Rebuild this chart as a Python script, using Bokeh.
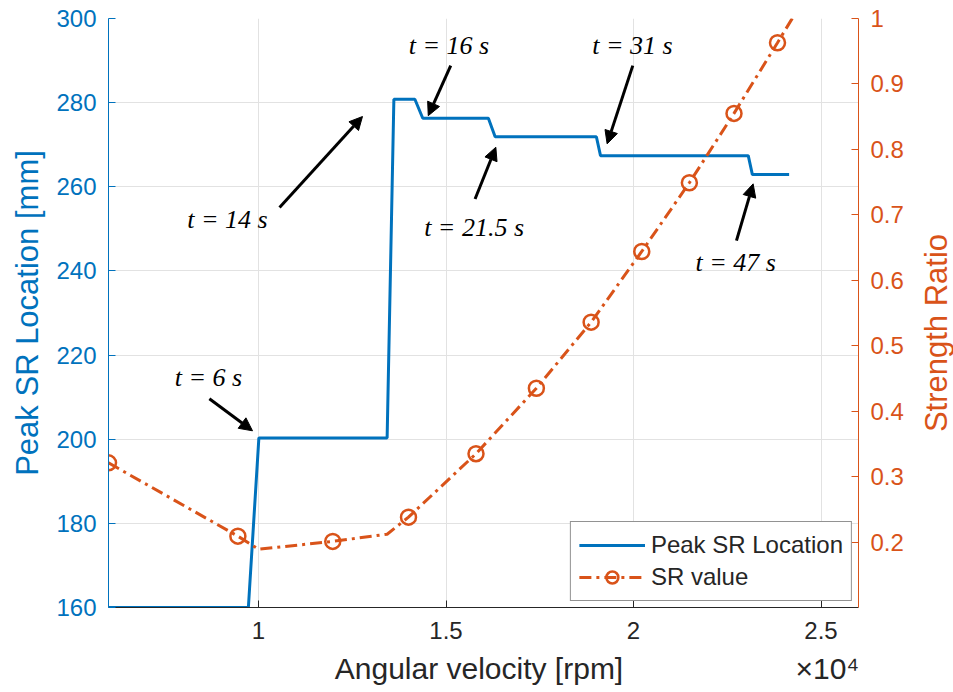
import math
from bokeh.plotting import figure
from bokeh.models import (Range1d, LinearAxis, FixedTicker, CustomJSTickFormatter,
                          Legend, LegendItem, Label, Arrow, NormalHead)
from bokeh.embed import file_html
from bokeh.resources import INLINE

# ---------------- data ----------------
peak_rpm = [6000, 9730, 10010, 13430, 13610, 14170, 14380, 16130, 16310,
            19010, 19120, 23060, 23170, 24150]
peak_mm = [160, 160, 200.3, 200.3, 280.8, 280.8, 276.3, 276.3, 271.9,
           271.9, 267.4, 267.4, 262.9, 262.9]

sr_rpm = [6000, 9450, 10000, 11980, 13430, 14000, 15800, 17410, 18870,
          20220, 21490, 22680, 23840, 24950]
sr_val = [0.321, 0.209, 0.189, 0.201, 0.212, 0.238, 0.335, 0.435, 0.536,
          0.644, 0.749, 0.855, 0.963, 1.068]
sr_marker_idx = [0, 1, 3, 5, 6, 7, 8, 9, 10, 11, 12, 13]

x_ticks = [10000, 15000, 20000, 25000]
left_ticks = [160, 180, 200, 220, 240, 260, 280, 300]
right_ticks = [0.2, 0.3, 0.4, 0.5, 0.6, 0.7, 0.8, 0.9, 1.0]

x_label = "Angular velocity [rpm]"
x_exponent = "\u00d710\u2074"
left_label = "Peak SR Location [mm]"
right_label = "Strength Ratio"

ann_text = ["t = 6 s", "t = 14 s", "t = 16 s", "t = 21.5 s", "t = 31 s", "t = 47 s"]

# annotation layout (text position, arrow tail, arrow head) in axis units
ann_text_pos = [(8663, 214.6), (9171, 252.2), (15080, 293.5), (15749, 250.3),
                (19973, 293.5), (22727, 242.0)]
ann_tail = [(8690, 209.6), (10561, 255.1), (15126, 288.8), (15775, 257.1),
            (19981, 288.8), (22746, 247.2)]
ann_head = [(9840, 202.0), (12773, 276.7), (14527, 276.9), (16329, 269.4),
            (19297, 270.2), (23190, 260.7)]
# layout positions (axis units) of the axis title, exponent and right title start
bottom_text_pos = [15880, 25170]
right_text_pos = [0.368]

BLUE = "#0072BD"
ORANGE = "#D95319"
DARK = "#262626"
FONT = "Liberation Sans"

p = figure(frame_width=750, frame_height=589, width=953, height=692,
           x_range=Range1d(6000, 26000), y_range=Range1d(160, 300),
           output_backend="svg", toolbar_location=None,
           min_border_left=108, min_border_right=95, min_border_top=18,
           min_border_bottom=85, background_fill_color="white",
           border_fill_color="white")
p.outline_line_color = None
p.extra_y_ranges = {"sr": Range1d(0.1, 1.0)}

# grid
p.xgrid.ticker = FixedTicker(ticks=x_ticks)
p.ygrid.ticker = FixedTicker(ticks=left_ticks)
p.xgrid.grid_line_color = "#e2e2e2"
p.ygrid.grid_line_color = "#e2e2e2"

# x axis (tick labels)
xa = p.xaxis[0]
xa.ticker = FixedTicker(ticks=x_ticks)
xa.formatter = CustomJSTickFormatter(code="return (Math.round(tick/1000)/10).toString();")
xa.major_label_text_font = FONT
xa.major_label_text_font_size = "24px"
xa.major_label_text_color = DARK
xa.major_label_standoff = 14
xa.axis_line_color = DARK
xa.major_tick_line_color = DARK
xa.major_tick_in = 7
xa.major_tick_out = 0
xa.minor_tick_line_color = None

# second row below: axis title and exponent
xb = LinearAxis()
xb.ticker = FixedTicker(ticks=bottom_text_pos)
xb.formatter = CustomJSTickFormatter(
    args=dict(a=x_label, b=x_exponent),
    code="return index == 0 ? a : b;")
xb.major_label_text_font = FONT
xb.major_label_text_font_size = "30px"
xb.major_label_text_color = DARK
xb.major_label_standoff = 10
xb.axis_line_color = None
xb.major_tick_line_color = None
xb.minor_tick_line_color = None
xb.major_tick_in = 0
xb.major_tick_out = 0
p.add_layout(xb, "below")

# left axis
ya = p.yaxis[0]
ya.ticker = FixedTicker(ticks=left_ticks)
ya.axis_label = left_label
ya.axis_label_text_font = FONT
ya.axis_label_text_font_size = "31px"
ya.axis_label_text_font_style = "normal"
ya.axis_label_text_color = BLUE
ya.axis_label_standoff = 8
ya.major_label_text_font = FONT
ya.major_label_text_font_size = "24px"
ya.major_label_text_color = BLUE
ya.major_label_standoff = 12
ya.axis_line_color = BLUE
ya.major_tick_line_color = BLUE
ya.major_tick_in = 7
ya.major_tick_out = 0
ya.minor_tick_line_color = None

# right axis (ticks)
ra = LinearAxis(y_range_name="sr")
ra.ticker = FixedTicker(ticks=right_ticks)
ra.formatter = CustomJSTickFormatter(code="return (Math.round(tick*10)/10).toString();")
ra.major_label_text_font = FONT
ra.major_label_text_font_size = "24px"
ra.major_label_text_color = ORANGE
ra.major_label_standoff = 12
ra.axis_line_color = ORANGE
ra.major_tick_line_color = ORANGE
ra.major_tick_in = 7
ra.major_tick_out = 0
ra.minor_tick_line_color = None
p.add_layout(ra, "right")

# right title (reads bottom to top)
rb = LinearAxis(y_range_name="sr")
rb.ticker = FixedTicker(ticks=right_text_pos)
rb.formatter = CustomJSTickFormatter(args=dict(t=right_label), code="return t;")
rb.major_label_orientation = math.pi / 2
rb.major_label_text_font = FONT
rb.major_label_text_font_size = "31px"
rb.major_label_text_color = ORANGE
rb.major_label_standoff = 30
rb.axis_line_color = None
rb.major_tick_line_color = None
rb.minor_tick_line_color = None
rb.major_tick_in = 0
rb.major_tick_out = 0
p.add_layout(rb, "right")

# series
peak_r = p.line(peak_rpm, peak_mm, line_color=BLUE, line_width=3)
sr_line = p.line(sr_rpm, sr_val, y_range_name="sr", line_color=ORANGE,
                 line_width=3, line_dash="12 5 3 5")
mx = [sr_rpm[i] for i in sr_marker_idx]
my = [sr_val[i] for i in sr_marker_idx]
sr_pts = p.scatter(mx, my, y_range_name="sr", marker="circle", size=15,
                   fill_color="white", fill_alpha=0, line_color=ORANGE, line_width=2.5)

legend = Legend(items=[LegendItem(label="Peak SR Location", renderers=[peak_r]),
                       LegendItem(label="SR value", renderers=[sr_line, sr_pts])],
                location="bottom_right")
legend.label_text_font = FONT
legend.label_text_font_size = "24px"
legend.label_text_color = DARK
legend.glyph_width = 66
legend.glyph_height = 30
legend.label_standoff = 6
legend.padding = 8
legend.spacing = 2
legend.margin = 6
legend.border_line_color = DARK
legend.border_line_width = 1
legend.background_fill_color = "white"
legend.background_fill_alpha = 1
p.add_layout(legend)

# annotations
for txt, (tx, ty), (ax0, ay0), (ax1, ay1) in zip(ann_text, ann_text_pos, ann_tail, ann_head):
    p.add_layout(Label(x=tx, y=ty, text=txt, text_align="center", text_baseline="middle",
                       text_font="Liberation Serif", text_font_style="italic",
                       text_font_size="26px", text_color="black"))
    p.add_layout(Arrow(x_start=ax0, y_start=ay0, x_end=ax1, y_end=ay1,
                       line_color="black", line_width=3,
                       end=NormalHead(size=13, fill_color="black", line_color="black",
                                      line_width=1)))

open("out.html", "w").write(file_html(p, INLINE))
